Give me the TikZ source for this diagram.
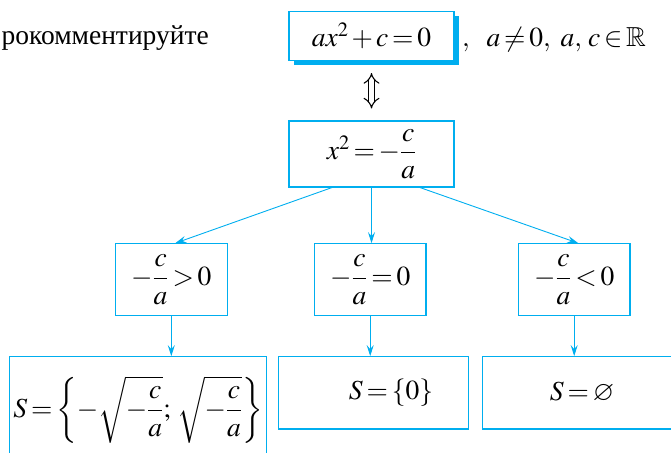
\documentclass[tikz,border=0pt]{standalone}
\usepackage{amsmath,amssymb}
\usepackage{mathptmx}
\usepackage[no-math]{fontspec}
\setmainfont{Liberation Serif}
\usetikzlibrary{arrows.meta,shadows}

\definecolor{boxblue}{RGB}{0,174,239}
\thickmuskip=2.5mu
\medmuskip=2mu

\begin{document}
\begin{tikzpicture}[x=1pt,y=-1pt,font=\fontsize{27.5}{33}\selectfont,
  box/.style={draw=boxblue,line width=1.1pt,fill=white,inner sep=0pt},
  arr/.style={draw=boxblue,line width=0.9pt,-{Stealth[length=11pt,width=7pt,inset=4pt]}},
  equiv/.style={double,double distance=4.5pt,line width=1.1pt,
    {Implies[length=9pt,width=20pt]}-{Implies[length=9pt,width=20pt]}}]

\useasboundingbox (0,0) rectangle (671,452);
\clip (0,0) rectangle (671,452);

% Equation
\node[box,minimum width=165pt,minimum height=49pt,
  drop shadow={shadow xshift=4.5pt,shadow yshift=-4.5pt,fill=boxblue,opacity=1}]
  (eq) at (371.5,36) {$ax^2+c=0$};
\node[anchor=base west,xshift=4pt] (cond) at (eq.base east)
  {$,\ \ a\neq0,\ a,\,c\in\mathbb{R}$};
\node[anchor=base west] (task) at (-2,45) {рокомментируйте};

% x^2 = -c/a
\node[box,minimum width=165pt,minimum height=66pt] (sq) at (371.5,154)
  {$x^2=-\dfrac{c}{a}$};
\draw[equiv,shorten <=12pt,shorten >=12pt] (eq) -- (sq);

% Cases
\def\cw{111.5pt}
\def\ch{72pt}
\node[box,minimum width=\cw,minimum height=\ch] (pos) at (171.3,279.7) {$-\dfrac{c}{a}>0$};
\node[box,minimum width=\cw,minimum height=\ch] (zero) at (370.2,279.7) {$-\dfrac{c}{a}=0$};
\node[box,minimum width=\cw,minimum height=\ch] (neg) at (574.2,279.7) {$-\dfrac{c}{a}<0$};

\draw[arr] ([xshift=-39.5pt]sq.south) -- ([xshift=4pt]pos.north);
\draw[arr] (sq.south) -- (sq.south |- zero.north);
\draw[arr] ([xshift=48.5pt]sq.south) -- ([xshift=4pt]neg.north);

% Solutions
\node[box,minimum width=257.4pt,minimum height=106pt] (spos) at (138,409.7)
  {$S=\left\{-\sqrt{-\dfrac{c}{a}};\,\sqrt{-\dfrac{c}{a}}\right\}$};
\node[box,minimum width=190.4pt,minimum height=72.3pt,text width=119pt,align=right]
  (szero) at (373.5,392.8) {$S=\{0\}$};
\node[box,minimum width=198.6pt,minimum height=72.3pt] (sneg) at (582,392.8)
  {$S=\varnothing$};

\draw[arr] (pos.south) -- (pos.south |- spos.north);
\draw[arr] (zero.south) -- (zero.south |- szero.north);
\draw[arr] (neg.south) -- (neg.south |- sneg.north);

\end{tikzpicture}
\end{document}
